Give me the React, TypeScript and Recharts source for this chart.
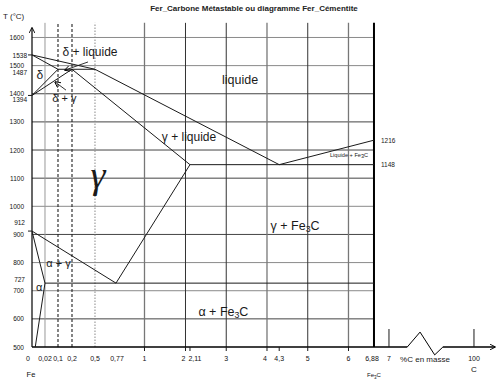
import React from "react";
import { LineChart, Line, XAxis, YAxis, ReferenceLine, ReferenceDot } from "recharts";

// the drawing's carbon axis is not linear: % C -> axis units
const AXIS_C = [0, 0.02, 0.1, 0.2, 0.5, 0.77, 1, 2, 6, 6.88, 7, 100];
const AXIS_U = [0, 13, 26, 40, 63, 84, 112.5, 153.5, 316.5, 342, 357, 442];
const C_END = 123;

const pos = (c: number) => {
  let i = 0;
  while (i < AXIS_C.length - 2 && c > AXIS_C[i + 1]) i++;
  const k = (c - AXIS_C[i]) / (AXIS_C[i + 1] - AXIS_C[i]);
  return AXIS_U[i] + k * (AXIS_U[i + 1] - AXIS_U[i]);
};

const X_TICKS = [0, 0.02, 0.1, 0.2, 0.5, 0.77, 1, 2, 2.11, 3, 4, 4.3, 5, 6, 6.88, 7, 100];
const X_LABELS = ["0", "0,02", "0,1", "0,2", "0,5", "0,77", "1", "2", "2,11", "3", "4", "4,3", "5", "6", "6,88", "7", "100"];
const Y_TICKS = [500, 600, 700, 727, 800, 900, 912, 1000, 1100, 1200, 1300, 1394, 1400, 1487, 1500, 1538, 1600];

const GRID_T = [600, 700, 800, 900, 1000, 1100, 1200, 1300, 1400, 1500, 1600];
const GRID_C = [0.02, 0.1, 0.2, 0.5, 1, 2, 3, 4, 5, 6];

// phase boundaries, [% C, T °C]
const LIQUIDUS: [number, number][] = [[0, 1538], [0.5, 1487], [4.3, 1148], [6.88, 1235]];
const DELTA_SOLIDUS: [number, number][] = [[0, 1538], [0.1, 1487]];
const PERITECTIC: [number, number][] = [[0.1, 1487], [0.5, 1487]];
const DELTA_SOLVUS: [number, number][] = [[0, 1394], [0.1, 1487]];
const GAMMA_DELTA: [number, number][] = [[0, 1394], [0.2, 1487]];
const GAMMA_SOLIDUS: [number, number][] = [[0.2, 1487], [2.11, 1148]];
const EUTECTIC: [number, number][] = [[2.11, 1148], [6.88, 1148]];
const ACM: [number, number][] = [[2.11, 1148], [0.77, 727]];
const A3: [number, number][] = [[0, 912], [0.77, 727]];
const ALPHA: [number, number][] = [[0, 912], [0.012, 800], [0.02, 727], [0.005, 500]];
const EUTECTOID: [number, number][] = [[0.02, 727], [6.88, 727]];

const PHASES = [LIQUIDUS, DELTA_SOLIDUS, PERITECTIC, DELTA_SOLVUS, GAMMA_DELTA, GAMMA_SOLIDUS, EUTECTIC, ACM, A3, ALPHA, EUTECTOID];

const AXIS_BREAK: [number, number][] = [[27, 500], [41, 553], [57, 472], [66, 500]];

const toPts = (seg: [number, number][]) => seg.map(([c, t]) => ({ u: pos(c), t }));

const FONT = "'Liberation Sans', Arial, sans-serif";
const INK = "#1a1a1a";

const Y_SHIFT: Record<number, [number, number]> = {
  1538: [3, 1], 1487: [3, 3], 1394: [3, 4], 912: [1, -9], 727: [1, -4],
};

const YTick = (props: any) => {
  const { x, y, payload } = props;
  const v = payload.value as number;
  const [dx, dy] = Y_SHIFT[v] ?? [0, 0];
  const mark = v === 1538 || v === 1394 || v === 912;
  return (
    <g>
      {mark && <line x1={x - 4} x2={x} y1={y} y2={y} stroke={INK} />}
      <text x={x - 8 + dx} y={y + dy} textAnchor="end" dominantBaseline="central" fontSize={6.5} fontFamily={FONT} fill="#111">
        {v}
      </text>
    </g>
  );
};

const X_SHIFT: Record<string, number> = { "0": -4, "2": -2, "2,11": 5, "4": -2, "6,88": -2, "0,77": 1 };

const XTick = (props: any) => {
  const { x, y, payload } = props;
  const i = X_TICKS.findIndex((c) => Math.abs(pos(c) - payload.value) < 0.01);
  if (i < 0) return null;
  const lab = X_LABELS[i];
  const c = X_TICKS[i];
  return (
    <g>
      {c >= 1 && c <= 6 && <line x1={x} x2={x} y1={y} y2={y + 4} stroke={INK} />}
      {(c === 7 || c === 100) && <line x1={x} x2={x} y1={y} y2={y - 18} stroke={INK} />}
      <text x={x + (X_SHIFT[lab] ?? 0)} y={y + 11} textAnchor="middle" dominantBaseline="central" fontSize={7} fontFamily={FONT} fill="#111">
        {lab}
      </text>
      {c === 0 && (
        <text x={x - 1} y={y + 27} textAnchor="middle" dominantBaseline="central" fontSize={7.5} fontFamily={FONT} fill="#111">Fe</text>
      )}
      {c === 6.88 && (
        <text x={x} y={y + 28} textAnchor="middle" dominantBaseline="central" fontSize={6} fontFamily={FONT} fill="#111">
          Fe<tspan dy={1.5} fontSize={4.5}>3</tspan><tspan dy={-1.5}>C</tspan>
        </text>
      )}
      {c === 100 && (
        <text x={x} y={y + 22} textAnchor="middle" dominantBaseline="central" fontSize={8} fontFamily={FONT} fill="#111">C</text>
      )}
    </g>
  );
};

const text = (key: string, c: number, t: number, content: React.ReactNode, size: number, extra: any = {}) => (
  <ReferenceDot
    key={key}
    x={pos(c)}
    y={t}
    r={1}
    ifOverflow="visible"
    shape={(p: any) => (
      <text
        x={p.cx + (extra.dx ?? 0)}
        y={p.cy + (extra.dy ?? 0)}
        textAnchor={extra.anchor ?? "middle"}
        dominantBaseline="central"
        fontSize={size}
        fontFamily={extra.family ?? FONT}
        fontStyle={extra.italic ? "italic" : "normal"}
        fill={INK}
      >
        {content}
      </text>
    )}
  />
);

const fe3c = (size: number) => (
  <>
    Fe<tspan dy={size * 0.25} fontSize={size * 0.7}>3</tspan><tspan dy={-size * 0.25}>C</tspan>
  </>
);

const seg = (key: string, a: [number, number], b: [number, number], stroke: string, width = 1, extra: any = {}) => (
  <ReferenceLine
    key={key}
    segment={[{ x: pos(a[0]), y: a[1] }, { x: pos(b[0]), y: b[1] }]}
    stroke={stroke}
    strokeWidth={width}
    ifOverflow="visible"
    {...extra}
  />
);

const vStyle = (c: number) => {
  if (c === 0.1 || c === 0.2) return { stroke: "#222", w: 1.1, dash: "3 2" };
  if (c === 0.5) return { stroke: "#888", w: 1, dash: "1.5 1.5" };
  if (c === 0.02) return { stroke: "#999", w: 1, dash: undefined };
  if (c === 1 || c === 4 || c === 6) return { stroke: "#777", w: 1.3, dash: undefined };
  return { stroke: "#333", w: 1, dash: undefined };
};

const DARK_T = new Set([600, 900, 1100, 1200, 1300, 1400]);

export default function App() {
  return (
    <div style={{ position: "relative", width: 504, height: 390, background: "#fff" }}>
      <style>{`body{margin:0}`}</style>
      <div
        style={{
          position: "absolute", left: 0, width: 508, top: 4, textAlign: "center",
          fontFamily: FONT, fontSize: 8, fontWeight: "bold", color: "#222", whiteSpace: "nowrap",
        }}
      >
        Fer_Carbone Métastable ou diagramme Fer_Cémentite
      </div>
      <div style={{ position: "absolute", left: 3, top: 12, fontFamily: FONT, fontSize: 8, color: "#222" }}>T (°C)</div>
      <LineChart width={504} height={390} margin={{ top: 22, right: 9, bottom: 0, left: 0 }}>
        <defs>
          <marker id="arr" viewBox="0 0 10 10" refX="9" refY="5" markerWidth="6" markerHeight="6" orient="auto" markerUnits="userSpaceOnUse">
            <path d="M0,0 L10,5 L0,10" fill="none" stroke="#000" strokeWidth={1.5} />
          </marker>
        </defs>
        <XAxis
          dataKey="u"
          type="number"
          domain={[0, pos(C_END)]}
          allowDataOverflow
          ticks={X_TICKS.map(pos)}
          interval={0}
          height={43}
          axisLine={false}
          tickLine={false}
          tickSize={0}
          tickMargin={0}
          tick={<XTick />}
        />
        <YAxis
          type="number"
          domain={[500, 1655]}
          allowDataOverflow
          ticks={Y_TICKS}
          interval={0}
          width={32}
          axisLine={false}
          tickLine={false}
          tickSize={0}
          tickMargin={0}
          tick={<YTick />}
        />

        {GRID_T.map((t) => seg(`h${t}`, [0, t], [6.88, t], DARK_T.has(t) ? "#444" : "#8a8a8a", 1))}
        {GRID_C.map((c) => {
          const s = vStyle(c);
          return seg(`v${c}`, [c, 500], [c, 1652], s.stroke, s.w, { strokeDasharray: s.dash });
        })}
        {seg("v688", [6.88, 500], [6.88, 1652], "#000", 2)}

        {/* axes */}
        {seg("yaxis", [0, 500], [0, 1634], "#000", 1.2, { markerEnd: "url(#arr)" })}
        {seg("xaxis1", [0, 500], AXIS_BREAK[0], "#000", 1.3)}
        {AXIS_BREAK.slice(1).map((p, i) => seg(`brk${i}`, AXIS_BREAK[i], p, "#000", 1))}
        {seg("xaxis2", AXIS_BREAK[AXIS_BREAK.length - 1], [C_END, 500], "#000", 1.3, { markerEnd: "url(#arr)" })}

        {PHASES.map((p, i) => (
          <Line
            key={`ph${i}`}
            data={toPts(p)}
            dataKey="t"
            type="linear"
            stroke={INK}
            strokeWidth={1}
            dot={false}
            activeDot={false}
            isAnimationActive={false}
          />
        ))}

        {/* pointers from the small region labels */}
        {seg("arr1", [0.409, 1513], [0.15, 1484], INK, 0.9, { markerEnd: "url(#arr)" })}
        {seg("arr2", [0.157, 1413], [0.0815, 1442], INK, 0.9, { markerEnd: "url(#arr)" })}

        {text("lq", 3.34, 1449, "liquide", 12.5)}
        {text("dl", 0.435, 1548, "δ + liquide", 12)}
        {text("d", 0.012, 1467, "δ", 12)}
        {text("dg", 0.146, 1385, "δ + γ", 11)}
        {text("g", 0.539, 1111, "γ", 38, { family: "'Liberation Serif', 'DejaVu Serif', serif", italic: true })}
        {text("gl", 2.086, 1246, "γ + liquide", 12)}
        {text("lfe", 6.02, 1182, <>Liquide + Fe<tspan dy={1}>3</tspan><tspan dy={-1}>C</tspan></>, 5.6)}
        {text("gfe", 4.69, 930, <>γ + {fe3c(12.5)}</>, 12.5)}
        {text("afe", 2.93, 624, <>α + {fe3c(12.5)}</>, 12.5)}
        {text("ag", 0.1036, 800, "α + γ", 11)}
        {text("a", 0.011, 713, "α", 11)}
        {text("r1216", 6.88, 1235, "1216", 6.5, { dx: 7, anchor: "start" })}
        {text("r1148", 6.88, 1148, "1148", 6.5, { dx: 7, anchor: "start" })}
        {text("unit", 46.4, 500, "%C en masse", 8, { dy: 12 })}
      </LineChart>
    </div>
  );
}
